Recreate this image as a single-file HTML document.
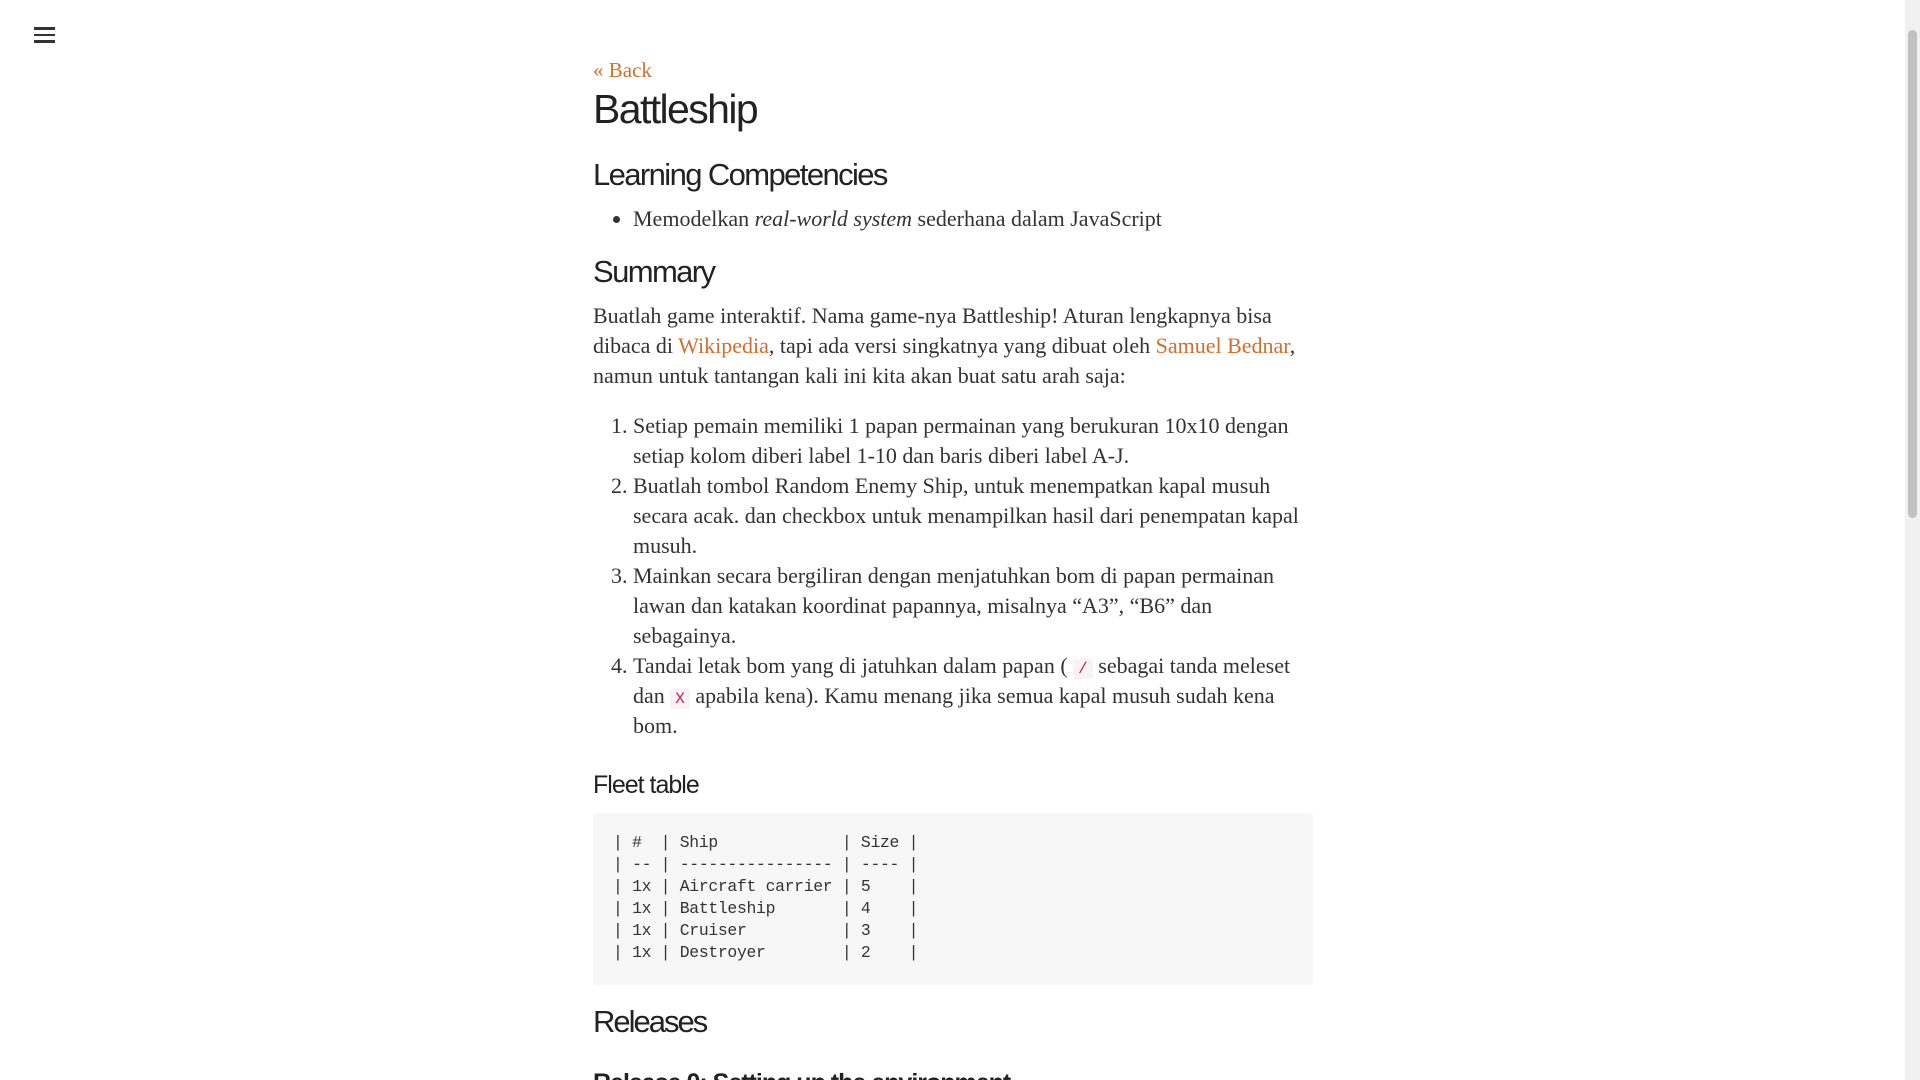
<!DOCTYPE html>
<html><head><meta charset="utf-8"><style>
html,body{margin:0;padding:0;background:#fff;width:1920px;height:1080px;overflow:hidden;}
body{position:relative;color:#333;font-family:"Liberation Serif",serif;font-size:22px;}
.a{position:absolute;left:593px;width:760px;white-space:nowrap;}
h1,h2,h3{font-family:"Liberation Sans",sans-serif;font-weight:normal;margin:0;color:#222;}
a{color:#d0702c;text-decoration:none;}
.l{line-height:30px;}
ol,ul{margin:0;padding-left:40px;}
code{font-family:"Liberation Mono",monospace;font-size:16px;line-height:16px;color:#c7254e;background:#f7f2f4;padding:1px 5px;border-radius:3px;}
pre{margin:0;font-family:"Liberation Mono",monospace;font-size:16.4px;line-height:22px;color:#333;letter-spacing:-0.3px;}
</style></head><body>
<div style="position:absolute;left:34px;top:27px;width:21px;">
<div style="height:2.5px;background:#333;margin-bottom:4px"></div>
<div style="height:2.5px;background:#333;margin-bottom:4px"></div>
<div style="height:2.5px;background:#333"></div></div>
<div style="position:absolute;left:1905px;top:0;width:15px;height:1080px;background:#f1f1f1"></div>
<div style="position:absolute;left:1908px;top:30px;width:9px;height:488px;background:#c1c1c1;border-radius:5px"></div>

<div class="a" style="top:58px;font-size:21px"><a>« Back</a></div>
<h1 class="a" style="top:86px;font-size:41px;letter-spacing:-1.6px">Battleship</h1>
<h2 class="a" style="top:157px;font-size:31px;letter-spacing:-1.6px">Learning Competencies</h2>
<div class="a l" style="top:204px"><ul><li>Memodelkan <i>real-world system</i> sederhana dalam JavaScript</li></ul></div>
<h2 class="a" style="top:254px;font-size:31px;letter-spacing:-1.6px">Summary</h2>
<div class="a l" style="top:301px">Buatlah game interaktif. Nama game-nya Battleship! Aturan lengkapnya bisa<br>dibaca di <a>Wikipedia</a>, tapi ada versi singkatnya yang dibuat oleh <a>Samuel Bednar</a>,<br>namun untuk tantangan kali ini kita akan buat satu arah saja:</div>
<div class="a l" style="top:411px"><ol>
<li>Setiap pemain memiliki 1 papan permainan yang berukuran 10x10 dengan<br>setiap kolom diberi label 1-10 dan baris diberi label A-J.</li>
<li>Buatlah tombol Random Enemy Ship, untuk menempatkan kapal musuh<br>secara acak. dan checkbox untuk menampilkan hasil dari penempatan kapal<br>musuh.</li>
<li>Mainkan secara bergiliran dengan menjatuhkan bom di papan permainan<br>lawan dan katakan koordinat papannya, misalnya “A3”, “B6” dan<br>sebagainya.</li>
<li>Tandai letak bom yang di jatuhkan dalam papan ( <code>/</code> sebagai tanda meleset<br>dan <code>X</code> apabila kena). Kamu menang jika semua kapal musuh sudah kena<br>bom.</li>
</ol></div>
<h3 class="a" style="top:771px;font-size:25px;letter-spacing:-1px">Fleet table</h3>
<div style="position:absolute;left:593px;top:813px;width:720px;height:172px;background:#f7f7f7;border-radius:3px"></div>
<pre style="position:absolute;left:613px;top:832px">| #  | Ship             | Size |
| -- | ---------------- | ---- |
| 1x | Aircraft carrier | 5    |
| 1x | Battleship       | 4    |
| 1x | Cruiser          | 3    |
| 1x | Destroyer        | 2    |</pre>
<h2 class="a" style="top:1004px;font-size:31px;letter-spacing:-2px">Releases</h2>
<h3 class="a" style="top:1069px;font-size:25px;font-weight:bold;letter-spacing:-1px">Release 0: Setting up the environment</h3>
</body></html>
